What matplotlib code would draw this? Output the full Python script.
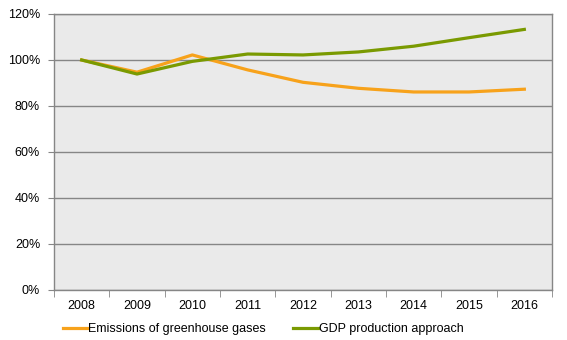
import matplotlib.pyplot as plt
from matplotlib.ticker import FixedLocator, FuncFormatter

plt.rcParams['font.family'] = ['Liberation Sans', 'DejaVu Sans']
plt.rcParams['font.size'] = 9

# Index values, 2008 = 100%
years = ['2008', '2009', '2010', '2011', '2012', '2013', '2014', '2015', '2016']
emissions = [100.0, 94.7, 102.2, 95.7, 90.3, 87.7, 86.1, 86.1, 87.3]
gdp = [100.0, 93.9, 99.4, 102.6, 102.2, 103.5, 106.0, 109.7, 113.3]

orange = '#F7A21B'
green = '#7A9A01'
grey = '#868686'

fig = plt.figure(figsize=(5.67, 3.4), dpi=100)
ax = fig.add_axes([54/567, 1 - 290/340, (552-54)/567, (290-14)/340])
ax.set_facecolor('#EAEAEA')

x = list(range(len(years)))
ax.plot(x, emissions, color=orange, linewidth=2.3, label='Emissions of greenhouse gases')
ax.plot(x, gdp, color=green, linewidth=2.3, label='GDP production approach')

ax.set_xlim(-0.5, len(years) - 0.5)
ax.set_ylim(0, 120)
ax.set_yticks(range(0, 121, 20))
ax.yaxis.set_major_formatter(FuncFormatter(lambda v, p: '%d%%' % v))
ax.yaxis.grid(True, color=grey, linewidth=1)
ax.set_axisbelow(True)

ax.set_xticks(x)
ax.set_xticklabels(years)
ax.xaxis.set_minor_locator(FixedLocator([i - 0.5 for i in range(len(years) + 1)]))
ax.tick_params(axis='x', which='major', length=0, pad=7)
ax.tick_params(axis='x', which='minor', length=5, color=grey)
ax.tick_params(axis='y', length=4, color=grey, pad=6)

for side in ['left', 'right', 'top', 'bottom']:
    ax.spines[side].set_color(grey)
    ax.spines[side].set_linewidth(1)

ax.legend(loc='center', bbox_to_anchor=(0.42, -0.141), ncol=2, frameon=False,
          handlelength=2.0, handletextpad=0.05, columnspacing=2.2, fontsize=9,
          borderpad=0)

fig.savefig('out.png', dpi=100)
